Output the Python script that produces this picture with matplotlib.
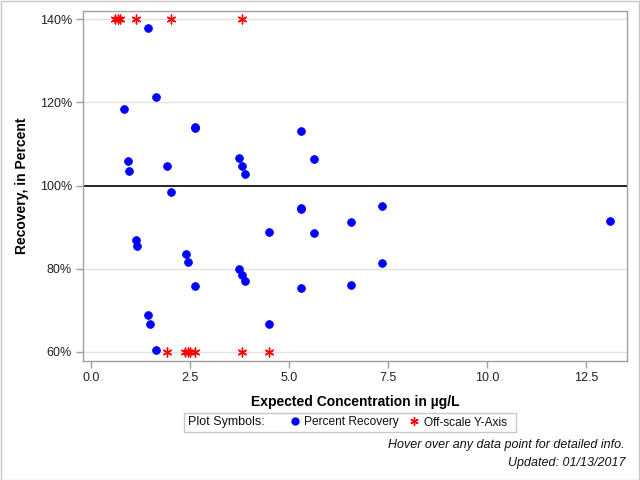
import matplotlib
matplotlib.use("Agg")
import matplotlib.pyplot as plt
from matplotlib.lines import Line2D
from matplotlib.patches import Rectangle
import numpy as np

plt.rcParams['font.family'] = ['Liberation Sans', 'DejaVu Sans']

# Percent recovery points
conc = [1.45, 0.84, 1.65, 2.63, 0.94, 0.97, 1.93, 2.03, 3.74, 3.82, 3.89,
        5.30, 5.63, 5.30, 6.57, 7.36, 5.63, 5.30, 6.57, 7.36, 13.1, 4.50,
        4.50, 1.14, 1.17, 2.41, 2.46, 2.63, 1.45, 1.50, 1.65, 3.74, 3.82, 3.89,
        2.63, 5.30]
recovery = [137.8, 118.3, 121.2, 113.8, 105.8, 103.4, 104.6, 98.4, 106.5, 104.6, 102.7,
            113.0, 106.3, 94.3, 91.1, 95.0, 88.5, 75.3, 76.0, 81.3, 91.4, 88.7,
            66.7, 86.8, 85.4, 83.4, 81.5, 75.8, 68.8, 66.6, 60.3, 79.8, 78.4, 76.9,
            114.0, 94.5]

# Off-scale points (plotted at axis limits)
off_high_conc = [0.60, 0.67, 0.74, 1.14, 2.02, 3.81]
off_low_conc = [1.92, 2.37, 2.44, 2.50, 2.63, 3.81, 4.49]
off_high_val = 140
off_low_val = 60

xticks = [0.0, 2.5, 5.0, 7.5, 10.0, 12.5]
yticks = [60, 80, 100, 120, 140]

fig = plt.figure(figsize=(6.4, 4.8), dpi=100)
ax = fig.add_axes([83/640, 1-361/480, 544/640, 350/480])

gray = '#a0a0a0'
ax.set_xlim(-0.202, 13.535)
ax.set_ylim(57.76, 142.0)
for y in yticks:
    if y != 100:
        ax.axhline(y, color='#e2e2e2', lw=1, zorder=0)
ax.axhline(100, color='black', lw=1.2, zorder=1)

star = (6, 2, 0)
ax.scatter(conc, recovery, s=32, color='#0000ff', edgecolors='#0000ff', linewidths=0.5, zorder=3)
ax.scatter(off_high_conc, [off_high_val]*len(off_high_conc), marker=star, s=40,
           color='#ff0000', linewidths=1, zorder=3)
ax.scatter(off_low_conc, [off_low_val]*len(off_low_conc), marker=star, s=40,
           color='#ff0000', linewidths=1, zorder=3)

ax.set_xticks(xticks)
ax.set_xticklabels([f"{v:.1f}" for v in xticks])
ax.set_yticks(yticks)
ax.set_yticklabels([f"{v}%" for v in yticks])
ax.tick_params(axis='both', direction='out', length=5, width=1, color=gray,
               labelsize=9, labelcolor='#222222', pad=3)
for s in ax.spines.values():
    s.set_color(gray)
    s.set_linewidth(1)

ax.set_xlabel("Expected Concentration in µg/L", fontsize=10, fontweight='bold', labelpad=8)
ax.set_ylabel("Recovery, in Percent", fontsize=10, fontweight='bold', labelpad=8)

# Legend box
fig.patches.append(Rectangle((184/640, 1-432/480), 332/640, 19/480, transform=fig.transFigure,
                             fill=False, edgecolor='#c8c8c8', lw=1))
fig.text(188/640, 1-422.5/480, "Plot Symbols:", ha='left', va='center', fontsize=9, color='#111111')
handles = [Line2D([], [], linestyle='none', marker='o', color='#0000ff', markersize=5),
           Line2D([], [], linestyle='none', marker=star, color='#ff0000', markersize=6, markeredgewidth=1)]
labels = ["Percent Recovery", "Off-scale Y-Axis"]
leg = fig.legend(handles, labels, loc='center left', bbox_to_anchor=(290/640, 1-422.5/480),
                 ncol=2, fontsize=8.6, frameon=False, handlelength=0.8,
                 handletextpad=0.4, columnspacing=0.85, borderpad=0.0, borderaxespad=0.0)
for t in leg.get_texts():
    t.set_color('#111111')

fig.text(625/640, 1-445/480, "Hover over any data point for detailed info.",
         ha='right', va='center', fontsize=9, style='italic', color='#111111')
fig.text(625/640, 1-463/480, "Updated: 01/13/2017",
         ha='right', va='center', fontsize=9, style='italic', color='#111111')

fig.patches.append(Rectangle((0.5/640, 0.5/480), 638.5/640, 478.5/480, transform=fig.transFigure,
                             fill=False, edgecolor='#c8c8c8', lw=1))

fig.savefig("out.png", dpi=100)
